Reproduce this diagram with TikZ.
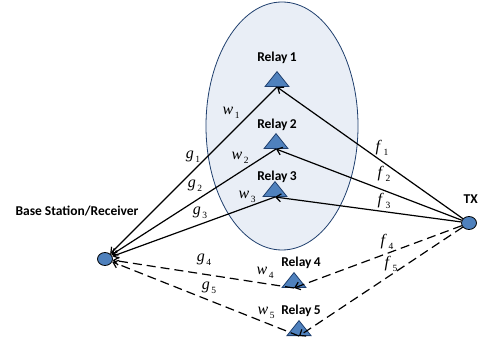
\documentclass[tikz,border=0pt]{standalone}
\usepackage{fontspec}
\setmainfont{Liberation Serif}
\setsansfont{Carlito}
\usetikzlibrary{arrows.meta,shapes.geometric}
\definecolor{cloud}{RGB}{233,238,246}
\definecolor{rim}{RGB}{31,63,110}
\definecolor{dotblue}{RGB}{79,129,189}
\newcommand{\chan}[2]{\textit{#1}\raisebox{-4pt}{\fontsize{9.5}{10}\selectfont\,#2}}

\begin{document}
\begin{tikzpicture}[x=1pt,y=-1pt,
  relay/.style={isosceles triangle, shape border rotate=90, isosceles triangle stretches,
    minimum width=24pt, minimum height=15pt, inner sep=0pt, fill=dotblue, draw=rim, line width=0.8pt},
  station/.style={ellipse, minimum width=15pt, minimum height=13pt, inner sep=0pt, fill=dotblue, draw=black, line width=0.8pt},
  tag/.style={font=\sffamily\bfseries\fontsize{13.5}{14}\selectfont},
  gain/.style={font=\fontsize{16}{16}\selectfont},
  link/.style={line width=1.2pt, -{Straight Barb[length=5pt,width=8pt]}},
  weak/.style={link, dash pattern=on 9pt off 5pt}]
\useasboundingbox (0,0) rectangle (479,347);
% relay cluster
\draw[fill=cloud, draw=rim, line width=0.8pt] (282,126) ellipse (76 and 124);
% relays
\node[relay, anchor=lower side] (r1) at (277,87) {};
\node[relay, anchor=lower side] (r2) at (276,149) {};
\node[relay, anchor=lower side] (r3) at (275,197) {};
\node[relay, anchor=lower side] (r4) at (294,288) {};
\node[relay, anchor=lower side] (r5) at (299,336) {};
\node[tag] (t1) at (277,58) {Relay\,1};
\node[tag] (t2) at (277,125) {Relay\,2};
\node[tag] (t3) at (277,177) {Relay\,3};
\node[tag] (t4) at (301,263) {Relay\,4};
\node[tag] (t5) at (301,311) {Relay\,5};
% end points
\node[station] (bs) at (105,259) {};
\node[station] (tx) at (469,223) {};
\node[tag] (bslabel) at (77,211) {Base Station/Receiver};
\node[tag, anchor=east, inner xsep=1pt] (txlabel) at (479,199) {TX};
% links
\foreach \i in {1,2,3} {
  \draw[link] (r\i.lower side) -- (bs);
  \draw[link] (tx) -- (r\i.lower side);
}
\foreach \i in {4,5} {
  \draw[weak] (r\i.lower side) -- (bs);
  \draw[weak] (tx) -- (r\i.lower side);
}
% channel labels
\node[gain] (g1) at (193,157) {\chan{g}{1}};
\node[gain] (g2) at (195,186) {\chan{g}{2}};
\node[gain] (g3) at (200,213) {\chan{g}{3}};
\node[gain] (g4) at (204,260) {\chan{g}{4}};
\node[gain] (g5) at (209,288) {\chan{g}{5}};
\node[gain] (w1) at (231,113) {\chan{w}{1}};
\node[gain] (w2) at (240,158) {\chan{w}{2}};
\node[gain] (w3) at (247,197) {\chan{w}{3}};
\node[gain] (w4) at (265,273) {\chan{w}{4}};
\node[gain] (w5) at (266,313) {\chan{w}{5}};
\node[gain] (f1) at (382,148) {\chan{f}{1}};
\node[gain] (f2) at (384,174) {\chan{f}{2}};
\node[gain] (f3) at (384,201) {\chan{f}{3}};
\node[gain] (f4) at (387,242) {\chan{f}{4}};
\node[gain] (f5) at (391,264) {\chan{f}{5}};
\end{tikzpicture}
\end{document}
